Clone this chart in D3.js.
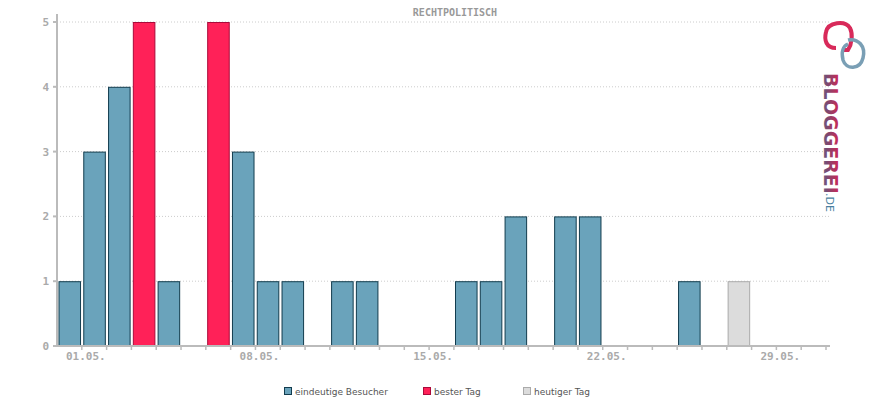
<!DOCTYPE html>
<html><head><meta charset="utf-8">
<script src="https://cdn.jsdelivr.net/npm/d3@7"></script>
<style>body{margin:0;background:#fff}</style>
</head><body><svg id="chart" width="870" height="400"></svg>
<script>
// slot 0 = 30.04., slot 1 = 01.05. ...
var days = d3.range(31);
var visitors = [1,3,4,5,1,0,5,3,1,1,0,1,1,0,0,0,1,1,2,0,2,2,0,0,0,1,0,1,0,0,0];
var bestDays = [3,6];
var today = 27;
var tickDays = [1,8,15,22,29];
var tickLabels = ["01.05.","08.05.","15.05.","22.05.","29.05."];
var yTicks = [0,1,2,3,4,5];

var svg = d3.select("#chart");
var font = "'DejaVu Sans Mono', monospace";

var x = d3.scaleBand().domain(days).range([57, 826]).paddingInner(0.09).paddingOuter(0.06);
var slot = d3.scaleLinear().domain([0, 31]).range([57, 826]);
var y = d3.scaleLinear().domain([0, 5]).range([346, 22]);

svg.append("text").attr("x", 455).attr("y", 16).attr("text-anchor", "middle")
    .style("font", "bold 10px " + font).attr("fill", "#999").text("RECHTPOLITISCH");

svg.selectAll(".grid").data(yTicks.slice(1)).enter()
    .append("line").attr("x1", 57).attr("x2", 830)
    .attr("y1", function(d){ return y(d);}).attr("y2", function(d){ return y(d);})
    .attr("stroke", "#ccc").attr("stroke-dasharray", "1,2");

function colour(i) {
    if (bestDays.indexOf(i) >= 0) return ["#ff2158", "#aa0a3a"];
    if (i == today) return ["#dcdcdc", "#aaa"];
    return ["#6aa3bb", "#123c4e"];
}

svg.selectAll(".bar").data(days.filter(function(i){ return visitors[i] > 0;})).enter()
    .append("rect")
    .attr("x", function(i){ return x(i) + 0.5;})
    .attr("y", function(i){ return y(visitors[i]) + 0.5;})
    .attr("width", x.bandwidth() - 1)
    .attr("height", function(i){ return y(0) - y(visitors[i]);})
    .attr("fill", function(i){ return colour(i)[0];})
    .attr("stroke", function(i){ return colour(i)[1];});

// axes
svg.append("line").attr("x1", 57).attr("x2", 57).attr("y1", 14).attr("y2", 347)
    .attr("stroke", "#bbb").attr("stroke-width", 2);
svg.append("line").attr("x1", 56).attr("x2", 830).attr("y1", 346).attr("y2", 346)
    .attr("stroke", "#bbb").attr("stroke-width", 2);

svg.selectAll(".ytick").data(yTicks).enter()
    .append("line").attr("x1", 53).attr("x2", 57)
    .attr("y1", function(d){ return y(d);}).attr("y2", function(d){ return y(d);})
    .attr("stroke", "#bbb").attr("stroke-width", 2);
svg.selectAll(".ylab").data(yTicks).enter()
    .append("text").attr("x", 49).attr("y", function(d){ return y(d) + 4;})
    .attr("text-anchor", "end").style("font", "bold 11px " + font).attr("fill", "#aaa")
    .text(function(d){ return d;});

svg.selectAll(".xtick").data(d3.range(1, 32)).enter()
    .append("line").attr("x1", function(d){ return slot(d);}).attr("x2", function(d){ return slot(d);})
    .attr("y1", 346).attr("y2", 350).attr("stroke", "#bbb").attr("stroke-width", 1.5);
svg.selectAll(".xlab").data(tickDays).enter()
    .append("text").attr("x", function(d){ return slot(d) + 4;}).attr("y", 360)
    .attr("text-anchor", "middle").style("font", "bold 11px " + font).attr("fill", "#aaa")
    .text(function(d, i){ return tickLabels[i];});

// legend
var legend = [["eindeutige Besucher", "#6aa3bb", "#123c4e", 284],
              ["bester Tag", "#ff2158", "#aa0a3a", 423],
              ["heutiger Tag", "#dcdcdc", "#aaa", 523]];
var lg = svg.selectAll(".lg").data(legend).enter().append("g")
    .attr("transform", function(d){ return "translate(" + d[3] + ",387)";});
lg.append("rect").attr("x", 0.5).attr("y", 0.5).attr("width", 7).attr("height", 7)
    .attr("fill", function(d){ return d[1];}).attr("stroke", function(d){ return d[2];});
lg.append("text").attr("x", 11).attr("y", 8).style("font", "9px 'DejaVu Sans', sans-serif")
    .attr("fill", "#555").text(function(d){ return d[0];});

// logo
var defs = svg.append("defs");
var grad = defs.append("linearGradient").attr("id", "lgr").attr("x1", 0).attr("y1", 0).attr("x2", 0).attr("y2", 1);
grad.append("stop").attr("offset", 0).attr("stop-color", "#e0204f");
grad.append("stop").attr("offset", 0.7).attr("stop-color", "#7a4a70");
grad.append("stop").attr("offset", 1).attr("stop-color", "#4a7fa0");
var logo = svg.append("g");
logo.append("path").attr("d", "M836,48 C826,48 824,40 826,32 C828,22 845,20 850,28 C853,34 852,44 848,50 L842,50")
    .attr("fill", "none").attr("stroke", "#d82a5a").attr("stroke-width", 4);
logo.append("path").attr("d", "M848,40 C858,38 866,46 863,58 C860,70 846,70 843,60 C841,52 843,46 848,44")
    .attr("fill", "none").attr("stroke", "#7a9fb5").attr("stroke-width", 3.5);
logo.append("text").attr("transform", "translate(824,73) rotate(90)")
    .style("font", "bold 19px 'DejaVu Sans', sans-serif").attr("fill", "url(#lgr)")
    .text("BLOGGEREI");
logo.append("text").attr("transform", "translate(826,193) rotate(90)")
    .style("font", "11px 'DejaVu Sans', sans-serif").attr("fill", "#4a7fa0")
    .text(".DE");
</script></body></html>
